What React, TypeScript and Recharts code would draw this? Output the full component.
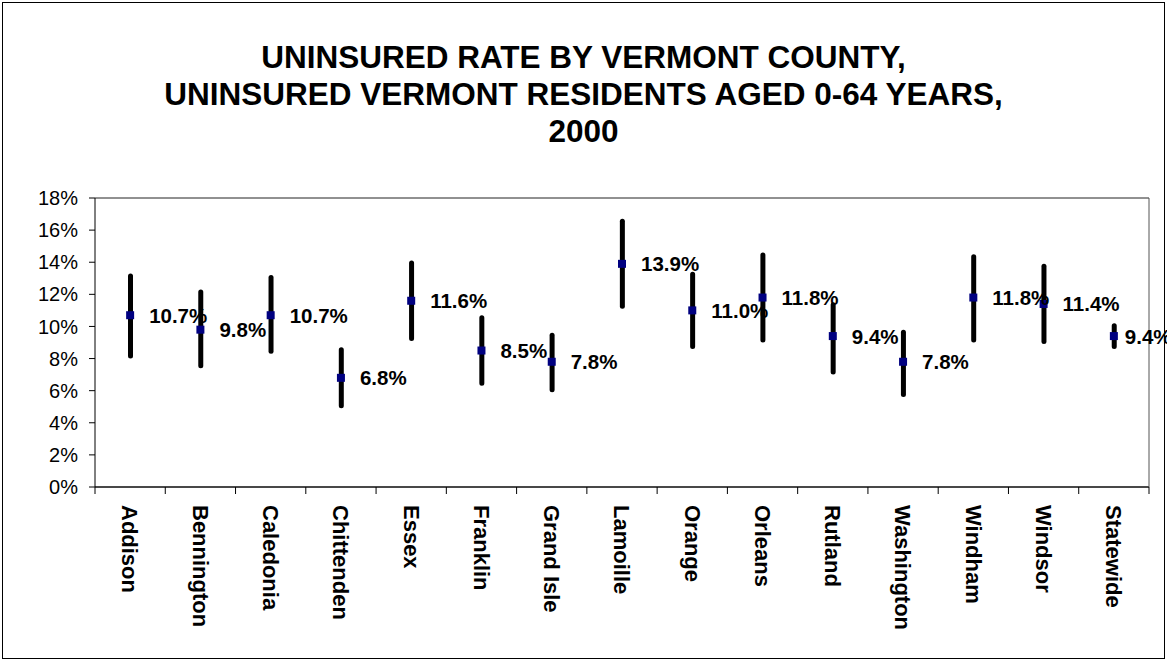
import { Bar, CartesianGrid, ComposedChart, LabelList, Line, XAxis, YAxis } from 'recharts';

const counties = [
  'Addison', 'Bennington', 'Caledonia', 'Chittenden', 'Essex', 'Franklin', 'Grand Isle', 'Lamoille',
  'Orange', 'Orleans', 'Rutland', 'Washington', 'Windham', 'Windsor', 'Statewide'
];
const rates = [10.7, 9.8, 10.7, 6.8, 11.6, 8.5, 7.8, 13.9, 11.0, 11.8, 9.4, 7.8, 11.8, 11.4, 9.4];
const lowerCI = [8.0, 7.4, 8.3, 4.9, 9.1, 6.3, 5.9, 11.1, 8.6, 9.0, 7.0, 5.6, 9.0, 8.9, 8.6];
const upperCI = [13.3, 12.3, 13.2, 8.7, 14.1, 10.7, 9.6, 16.7, 13.4, 14.6, 11.5, 9.8, 14.5, 13.9, 10.2];
const yTicks = [0, 2, 4, 6, 8, 10, 12, 14, 16, 18];

const titleLines = [
  'UNINSURED RATE BY VERMONT COUNTY,',
  'UNINSURED VERMONT RESIDENTS AGED 0-64 YEARS,',
  '2000'
];

const data = counties.map((county, i) => ({
  county,
  rate: rates[i],
  ci: [lowerCI[i], upperCI[i]]
}));

const FONT = '"Liberation Sans", Arial, sans-serif';
const WIDTH = 1167;
const HEIGHT = 661;
const PLOT_LEFT = 95;
const PLOT_RIGHT = 1149;
const BAND = (PLOT_RIGHT - PLOT_LEFT) / counties.length;

// ticks sit between categories, like the old spreadsheet default
function CountyTick(props: any) {
  const { x, y, payload, index } = props;
  const left = x - BAND / 2;
  return (
    <g>
      <line x1={left} y1={y} x2={left} y2={y + 7} stroke='#000' />
      {index === counties.length - 1 && (
        <line x1={x + BAND / 2} y1={y} x2={x + BAND / 2} y2={y + 7} stroke='#000' />
      )}
      <text
        x={x}
        y={y + 18}
        dy='0.35em'
        transform={`rotate(90, ${x}, ${y + 18})`}
        textAnchor='start'
        fontFamily={FONT}
        fontWeight='bold'
        fontSize={22}
        fill='#000'
      >
        {payload.value}
      </text>
    </g>
  );
}

function SquareDot(props: any) {
  const { cx, cy } = props;
  if (cx == null || cy == null) return null;
  return <rect x={cx - 4} y={cy - 4} width={8} height={8} fill='#000080' />;
}

function RateLabel(props: any) {
  const { x, y, value, index } = props;
  // the last label was squeezed in towards its bar
  const gap = index === counties.length - 1 ? 11 : 19;
  return (
    <text
      x={x + gap}
      y={y}
      dominantBaseline='central'
      fontFamily={FONT}
      fontWeight='bold'
      fontSize={20.5}
      fill='#000'
    >
      {`${Number(value).toFixed(1)}%`}
    </text>
  );
}

function App() {
  return (
    <div style={{ position: 'absolute', left: 0, top: 0, width: WIDTH, height: HEIGHT, background: '#fff' }}>
      <div
        style={{
          position: 'absolute',
          left: 2,
          top: 2,
          width: WIDTH - 6,
          height: HEIGHT - 6,
          border: '1px solid #000'
        }}
      />
      <div
        style={{
          position: 'absolute',
          left: 0,
          top: 39,
          width: WIDTH,
          textAlign: 'center',
          fontFamily: FONT,
          fontWeight: 'bold',
          fontSize: 31.5,
          lineHeight: '37px',
          color: '#000'
        }}
      >
        {titleLines.map(line => (
          <div key={line}>{line}</div>
        ))}
      </div>
      <div style={{ position: 'absolute', left: 0, top: 0 }}>
        <ComposedChart
          width={WIDTH}
          height={HEIGHT}
          data={data}
          margin={{ top: 198, right: 0, bottom: 0, left: 0 }}
        >
          <CartesianGrid vertical={false} stroke='#222' />
          <XAxis
            dataKey='county'
            height={174}
            interval={0}
            tickLine={false}
            tickSize={0}
            tickMargin={0}
            axisLine={{ stroke: '#000' }}
            tick={<CountyTick />}
          />
          <YAxis
            yAxisId='left'
            width={PLOT_LEFT}
            domain={[0, 18]}
            ticks={yTicks}
            interval={0}
            tickSize={6}
            tickMargin={11}
            axisLine={{ stroke: '#000' }}
            tickLine={{ stroke: '#000' }}
            tickFormatter={v => `${v}%`}
            tick={{ fontFamily: FONT, fontSize: 20, fill: '#000' }}
          />
          <YAxis
            yAxisId='right'
            orientation='right'
            width={WIDTH - PLOT_RIGHT}
            domain={[0, 18]}
            tick={false}
            tickLine={false}
            axisLine={{ stroke: '#555' }}
          />
          <Bar
            yAxisId='left'
            dataKey='ci'
            barSize={5}
            radius={2.5}
            fill='#000'
            isAnimationActive={false}
          />
          <Line
            yAxisId='left'
            dataKey='rate'
            stroke='none'
            dot={<SquareDot />}
            activeDot={false}
            isAnimationActive={false}
          >
            <LabelList dataKey='rate' content={<RateLabel />} />
          </Line>
        </ComposedChart>
      </div>
    </div>
  );
}

export default App;
